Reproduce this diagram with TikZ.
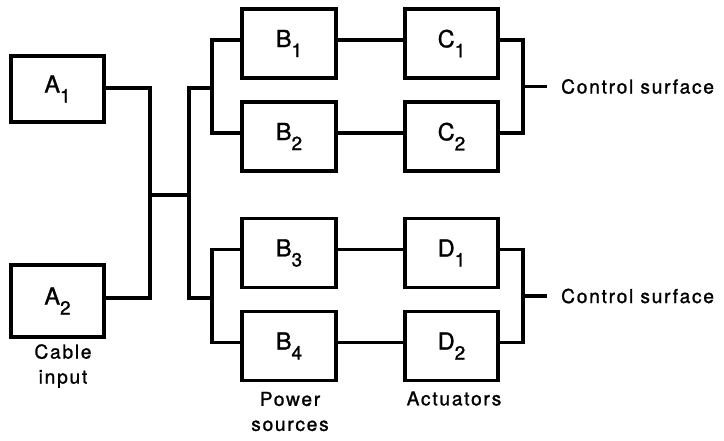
\documentclass[tikz,border=0pt]{standalone}
\usepackage{fontspec}
\setmainfont{TeX Gyre Heros}[FakeBold=1.2]
\newfontfamily\spacedfont{TeX Gyre Heros}[LetterSpace=9,FakeBold=1.2]
\newcommand{\blab}[2]{#1\raisebox{-10pt}{\fontsize{19}{19}\selectfont #2}}
\begin{document}
\begin{tikzpicture}[x=1pt,y=-1pt,
  blk/.style={draw, line width=3.2pt, minimum width=93pt, minimum height=69pt, inner sep=0pt,
    font=\fontsize{23.5}{24}\selectfont},
  wire/.style={line width=3.4pt},
  lbl/.style={font=\spacedfont\fontsize{19.2}{25}\selectfont, align=center, inner sep=0pt}]
\useasboundingbox (0,0) rectangle (724,440);
% boxes
\node[blk, minimum height=66pt] (A1) at (57.5,89) {\blab{A}{1}};
\node[blk, minimum height=72pt] (A2) at (57.5,301) {\blab{A}{2}};
\node[blk, minimum width=94pt] (B1) at (289,43.5) {\blab{B}{1}};
\node[blk, minimum width=94pt] (B2) at (289,136.5) {\blab{B}{2}};
\node[blk, minimum width=94pt] (B3) at (289,253) {\blab{B}{3}};
\node[blk, minimum width=94pt] (B4) at (289,346) {\blab{B}{4}};
\node[blk] (C1) at (451.5,43.5) {\blab{C}{1}};
\node[blk] (C2) at (451.5,136.5) {\blab{C}{2}};
\node[blk] (D1) at (451.5,253) {\blab{D}{1}};
\node[blk] (D2) at (451.5,346) {\blab{D}{2}};
% labels
\node[lbl] (cab) at (63,366) {Cable\\input};
\node[lbl] (pow) at (290,411.5) {Power\\sources};
\node[lbl] (act) at (454,398.5) {Actuators};
\node[lbl, anchor=west, inner xsep=14pt] (cs1) at (547,86.5) {Control surface};
\node[lbl, anchor=west, inner xsep=14pt] (cs2) at (547,296) {Control surface};
% junction points
\coordinate (ja) at (150,195);
\coordinate (jb) at (189,195);
\coordinate (jt) at (212,88);
\coordinate (jd) at (212,298);
\coordinate (jc) at (523,86.5);
\coordinate (je) at (523,296);
% wires
\draw[wire] ([yshift=1pt]A1.east) -| (ja) |- ([yshift=3pt]A2.east);
\draw[wire] (ja) -- (jb);
\draw[wire] (jt) -| (jb) |- (jd);
\draw[wire] ([yshift=3.5pt]B1.west) -| (jt) |- ([yshift=3.5pt]B2.west);
\draw[wire] ([yshift=3.5pt]B3.west) -| (jd) |- ([yshift=3.5pt]B4.west);
\draw[wire] ([yshift=3.5pt]B1.east) -- ([yshift=3.5pt]C1.west);
\draw[wire] ([yshift=3.5pt]B2.east) -- ([yshift=3.5pt]C2.west);
\draw[wire] ([yshift=3.5pt]B3.east) -- ([yshift=3.5pt]D1.west);
\draw[wire] ([yshift=3.5pt]B4.east) -- ([yshift=3.5pt]D2.west);
\draw[wire] ([yshift=3.5pt]C1.east) -| (jc) |- ([yshift=3.5pt]C2.east);
\draw[wire] ([yshift=3.5pt]D1.east) -| (je) |- ([yshift=3.5pt]D2.east);
\draw[wire] (jc) -- (cs1.west);
\draw[wire] (je) -- (cs2.west);
\end{tikzpicture}
\end{document}
